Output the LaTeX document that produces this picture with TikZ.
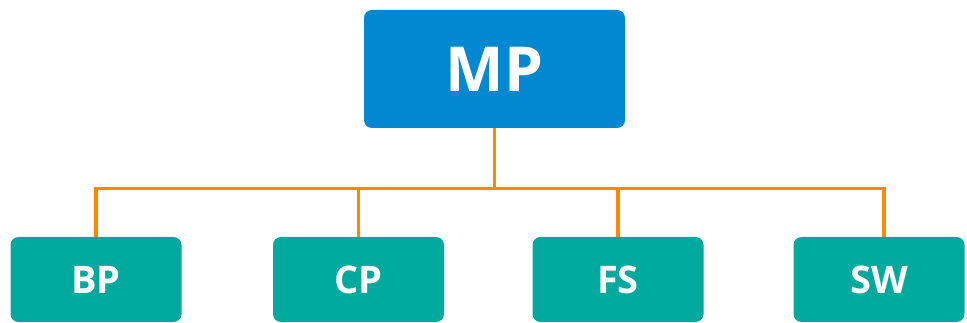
\documentclass[tikz,border=0pt]{standalone}
\usepackage{fontspec}
\setmainfont{Open Sans}
\definecolor{topblue}{HTML}{0288D1}
\definecolor{leafteal}{HTML}{00A99D}
\definecolor{linkorange}{HTML}{FF8A00}
\begin{document}
\begin{tikzpicture}[x=1pt,y=-1pt,
  topbox/.style={fill=topblue, rounded corners=8pt, minimum width=261pt, minimum height=118pt,
    text=white, font=\fontsize{62}{62}\selectfont\bfseries, inner sep=0pt},
  leafbox/.style={fill=leafteal, rounded corners=8pt, minimum width=171pt, minimum height=85pt,
    text=white, font=\fontsize{38}{38}\selectfont\bfseries, inner sep=0pt},
  link/.style={draw=linkorange, line width=3.6pt}]
  \useasboundingbox (0,0) rectangle (967,323);
  \node[topbox] (mp) at (494.5,69) {MP};
  \node[leafbox] (bp) at (96,279.5) {BP};
  \node[leafbox] (cp) at (358.5,279.5) {CP};
  \node[leafbox] (fs) at (618,279.5) {FS};
  \node[leafbox] (sw) at (879,279.5) {SW};
  \coordinate (hub) at (494.5,188.5);
  \coordinate (swtop) at ([xshift=5pt]sw.north);
  \draw[link] (mp.south) -- (hub);
  \draw[link] (bp.north) |- (hub) -| (swtop);
  \draw[link] (cp.north) -- (cp.north |- hub);
  \draw[link] (fs.north) -- (fs.north |- hub);
\end{tikzpicture}
\end{document}
